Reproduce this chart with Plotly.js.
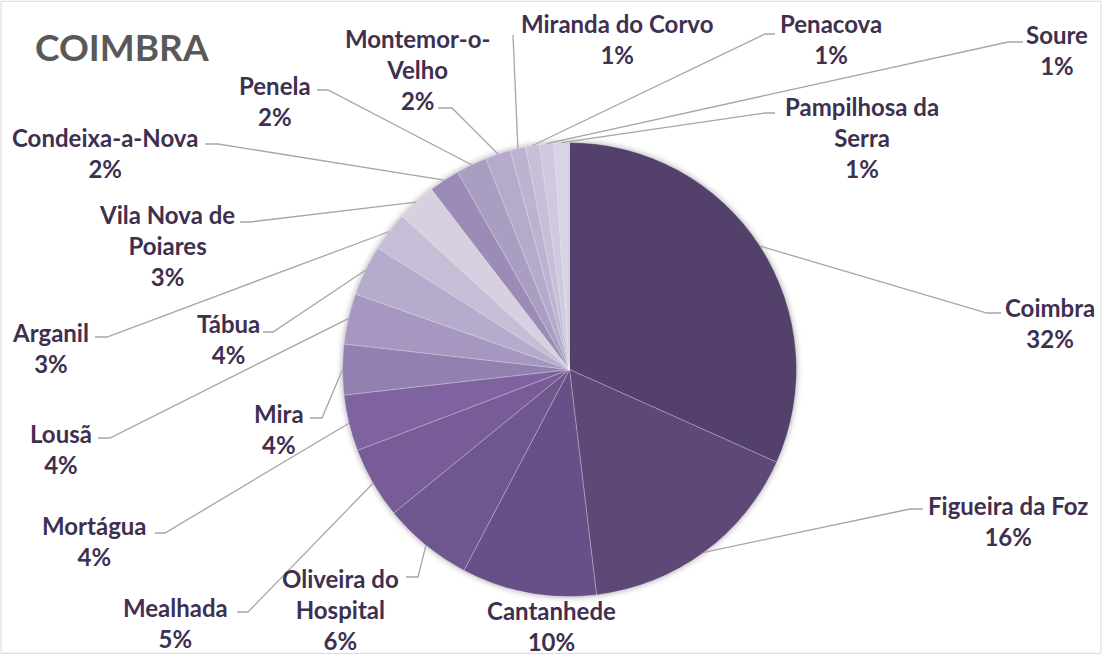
<!DOCTYPE html>
<html><head><meta charset="utf-8">
<script src="https://cdn.plot.ly/plotly-3.0.1.min.js"></script>
<style>
html,body{margin:0;padding:0;background:#fff}
#chart{width:1102px;height:654px}
.pielayer .trace{filter:drop-shadow(0px 0px 3px rgba(0,0,0,0.35));}
</style></head><body><div id="chart"></div>
<script>
// ---- data ----
const municipios = ["Coimbra","Figueira da Foz","Cantanhede","Oliveira do Hospital","Mealhada","Mortágua","Mira","Lousã","Tábua","Arganil","Vila Nova de Poiares","Condeixa-a-Nova","Penela","Montemor-o-Velho","Miranda do Corvo","Penacova","Soure","Pampilhosa da Serra"];
const valores = [31.7,16.4,9.6,6.4,5.1,4.0,3.6,3.6,3.6,2.8,2.8,2.2,2.2,1.8,1.1,1.0,1.0,1.1];
const rotulos = ["Coimbra","Figueira da Foz","Cantanhede","Oliveira do<br>Hospital","Mealhada","Mortágua","Mira","Lousã","Tábua","Arganil","Vila Nova de<br>Poiares","Condeixa-a-Nova","Penela","Montemor-o-<br>Velho","Miranda do Corvo","Penacova","Soure","Pampilhosa da<br>Serra"];
const titulo = "COIMBRA";

// ---- styling / layout ----
const cores = ["#53416b","#5e4878","#684f88","#6f578e","#785c98","#7f63a0","#9281b0","#a697c0","#b6abcc","#c6bdd7","#d6d0e1","#9c8bb6","#aa9dc2","#b5aacb","#bdb3d1","#c7bfd8","#cfc8de","#d8d3e5"];
// label placement in pixels: [centerX, firstLineY, elbowX, elbowY, endX, endY] (null = no leader)
const posRotulos = [
  [1050,307, 987,313, 1001,313],
  [1008,505, 910,509, 923,509],
  [551,610, null,null,null,null],
  [340,577, 418,577, 406,577],
  [175,607, 248,612, 237,612],
  [94,525, 165,533, 155,533],
  [279,413, 322,418, 310,418],
  [61,433, 110,438, 98,438],
  [228,323, 273,332, 263,332],
  [50,332, 107,337, 95,337],
  [167,213, 250,222, 240,222],
  [105,137, 218,144, 205,144],
  [275,85, 328,90, 317,90],
  [417,37, 452,108, 438,108],
  [617,23, 513,35, 513,35],
  [831,23, 765,34, 775,34],
  [1057,34, 1008,42, 1023,42],
  [862,105, 765,113, 775,113]
];
const W = 1102, H = 654;
const CX = 569.5, CY = 369.5, R = 227;
const LH = 32;

const px = x => x / W;
const py = y => 1 - y / H;

const total = valores.reduce((a,b)=>a+b,0);
const annotations = [];
const shapes = [];
let cum = 0;
valores.forEach((v,i)=>{
  const a = (cum + v/2)/total*2*Math.PI;
  cum += v;
  const ax = CX + R*Math.sin(a), ay = CY - R*Math.cos(a);
  const p = posRotulos[i];
  const txt = rotulos[i] + "<br>" + Math.round(v/total*100) + "%";
  const nLines = txt.split("<br>").length;
  annotations.push({
    xref:"paper", yref:"paper", x:px(p[0]), y:py(p[1] + (nLines-1)*LH/2),
    xanchor:"center", yanchor:"middle", showarrow:false, align:"center",
    text:txt, font:{family:"Lato, 'Open Sans', sans-serif", size:24, color:"#3f3050", weight:"bold"}
  });
  if (p[2] !== null) {
    shapes.push({
      type:"path", xref:"paper", yref:"paper",
      path:`M ${px(ax)} ${py(ay)} L ${px(p[2])} ${py(p[3])} L ${px(p[4])} ${py(p[5])}`,
      line:{color:"#a6a6a6", width:1.3}
    });
  }
});
shapes.push({type:"rect", xref:"paper", yref:"paper", x0:0.001, x1:0.999, y0:0.001, y1:0.998, line:{color:"#d9d9d9", width:1}});

const trace = {
  type:"pie", labels:municipios, values:valores, sort:false, direction:"clockwise", rotation:0,
  marker:{colors:cores, line:{color:"rgba(255,255,255,0.35)", width:0.8}},
  textinfo:"none", hoverinfo:"label+percent",
  domain:{x:[(CX-R)/W,(CX+R)/W], y:[1-(CY+R)/H, 1-(CY-R)/H]}
};

const layout = {
  width:W, height:H, margin:{l:0,r:0,t:0,b:0}, showlegend:false,
  paper_bgcolor:"#fff",
  title:{text:titulo, x:35/W, xanchor:"left", y:py(48), yanchor:"middle", yref:"paper",
    font:{family:"Lato, 'Open Sans', sans-serif", size:37, color:"#595959", weight:"bold"}},
  annotations, shapes
};
Plotly.newPlot("chart",[trace],layout,{displayModeBar:false, staticPlot:true});
</script></body></html>
